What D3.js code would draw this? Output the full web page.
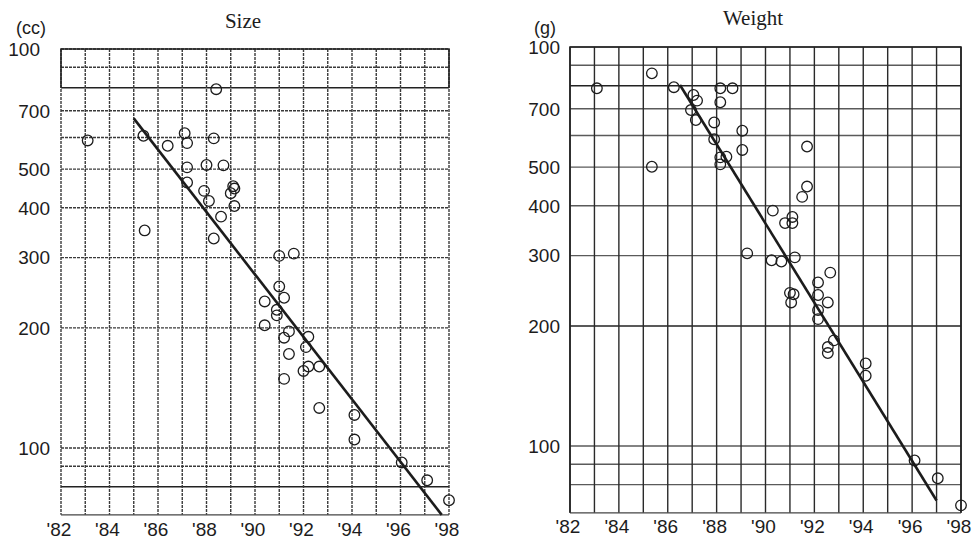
<!DOCTYPE html>
<html>
<head>
<meta charset="utf-8">
<script src="https://cdn.jsdelivr.net/npm/d3@7"></script>
<style>
  body { margin: 0; background: #fff; }
  svg { display: block; }
</style>
</head>
<body>
<div id="chart"></div>
<script>
// tick labels (the top label reads "100" in the original, kept as is)
const yearTicks = [1982, 1984, 1986, 1988, 1990, 1992, 1994, 1996, 1998];
const yearLabels = ["'82", "'84", "'86", "'88", "'90", "'92", "'94", "'96", "'98"];
const yTickValues = [1000, 700, 500, 400, 300, 200, 100];
const yTickLabels = ["100", "700", "500", "400", "300", "200", "100"];
const hGridValues = [80, 90, 100, 200, 300, 400, 500, 600, 700, 800, 900, 1000];
const gridYears = d3.range(1982, 1999);

// Size (cc)
const sizeYears = [1983.1, 1985.4, 1986.4, 1987.1, 1987.2, 1988.3, 1988.4, 1987.2, 1988.0, 1988.7,
  1987.2, 1987.9, 1988.1, 1989.1, 1989.15, 1989.0, 1989.15, 1988.6, 1988.3, 1985.45,
  1991.0, 1991.6, 1991.0, 1991.2, 1990.4, 1990.9, 1990.9, 1990.4, 1991.4, 1991.2,
  1992.2, 1992.1, 1991.4, 1992.2, 1992.0, 1992.65, 1991.2, 1992.65, 1994.1, 1994.1,
  1996.05, 1997.1, 1998.0];
const sizeValues = [590, 606, 572, 615, 581, 597, 793, 505, 512, 511,
  463, 441, 416, 453, 447, 435, 404, 380, 335, 351,
  303, 307, 254, 238, 233, 222, 215, 203, 196, 189,
  190, 179, 172, 160, 156, 160, 149, 126, 121, 105,
  92, 83, 74];
const sizeFit = [[1985, 670], [1997.7, 68]];

// Weight (g)
const weightYears = [1983.1, 1985.35, 1985.35, 1986.25, 1987.05, 1987.2, 1986.95, 1987.15, 1988.15, 1988.65,
  1988.15, 1987.9, 1987.9, 1989.05, 1989.05, 1988.15, 1988.15, 1988.4, 1991.7, 1991.7,
  1991.5, 1990.3, 1991.1, 1990.8, 1991.1, 1989.25, 1991.2, 1990.25, 1990.65, 1992.65,
  1992.15, 1991.0, 1991.15, 1991.05, 1992.15, 1992.55, 1992.15, 1992.15, 1992.8, 1992.55,
  1992.55, 1994.1, 1994.1, 1996.1, 1997.05, 1998.0];
const weightValues = [788, 859, 501, 793, 758, 734, 695, 656, 788, 788,
  727, 647, 587, 617, 552, 529, 508, 531, 563, 447,
  421, 389, 375, 362, 362, 304, 297, 292, 290, 272,
  257, 242, 240, 229, 239, 229, 219, 208, 184, 177,
  171, 161, 150, 92, 83, 71];
const weightFit = [[1986.5, 803], [1997.0, 73]];

const width = 977, height = 540;
const svg = d3.select("#chart").append("svg")
  .attr("width", width)
  .attr("height", height);

const sansFont = "'Liberation Sans', Arial, sans-serif";
const serifFont = "'Liberation Serif', 'Times New Roman', serif";
const ink = "#1c1c1c";

function drawPanel(p) {
  const x = d3.scaleLinear().domain([1982, 1998]).range([p.left, p.right]);
  const y = d3.scaleLog().domain([100, 1000]).range([p.y100, p.y1000]);
  const bottom = y(68);
  const top = y(1000);
  const g = svg.append("g");

  // horizontal grid
  g.append("g").selectAll("line")
    .data(hGridValues)
    .join("line")
    .attr("x1", p.left).attr("x2", p.right)
    .attr("y1", d => y(d)).attr("y2", d => y(d))
    .attr("stroke", d => p.solidH.includes(d) ? "#222" : p.hColor)
    .attr("stroke-width", d => p.solidH.includes(d) ? 1.5 : 1.4)
    .attr("stroke-dasharray", d => p.solidH.includes(d) ? null : p.hDash);

  // vertical grid, one line per year
  g.append("g").selectAll("line")
    .data(gridYears)
    .join("line")
    .attr("x1", d => x(d)).attr("x2", d => x(d))
    .attr("y1", top).attr("y2", bottom)
    .attr("stroke", p.vColor)
    .attr("stroke-width", 1.4)
    .attr("stroke-dasharray", p.vDash);

  // bottom edge
  g.append("line")
    .attr("x1", p.left).attr("x2", p.right)
    .attr("y1", bottom).attr("y2", bottom)
    .attr("stroke", "#444").attr("stroke-width", 1.4);

  // frame
  g.append("path")
    .attr("d", p.topFrame(x, y))
    .attr("fill", "none")
    .attr("stroke", "#222")
    .attr("stroke-width", 1.6);

  // fitted trend line
  g.append("line")
    .attr("x1", x(p.fit[0][0])).attr("y1", y(p.fit[0][1]))
    .attr("x2", x(p.fit[1][0])).attr("y2", y(p.fit[1][1]))
    .attr("stroke", ink)
    .attr("stroke-width", 2.6);

  // data points
  g.append("g").selectAll("circle")
    .data(d3.zip(p.years, p.values))
    .join("circle")
    .attr("cx", d => x(d[0]))
    .attr("cy", d => y(d[1]))
    .attr("r", 5.3)
    .attr("fill", "none")
    .attr("stroke", ink)
    .attr("stroke-width", 1.3);

  // y labels
  g.append("g").selectAll("text")
    .data(d3.zip(yTickValues, yTickLabels))
    .join("text")
    .attr("x", (d, i) => i === 0 ? p.left - p.topLabelGap : p.left - p.labelGap)
    .attr("y", d => y(d[0]))
    .attr("dy", "0.36em")
    .attr("text-anchor", "end")
    .attr("font-family", sansFont)
    .attr("font-size", 19)
    .attr("fill", ink)
    .text(d => d[1]);

  // x labels
  g.append("g").selectAll("text")
    .data(d3.zip(yearTicks, yearLabels))
    .join("text")
    .attr("x", d => x(d[0]) - 2)
    .attr("y", p.xLabelY)
    .attr("text-anchor", "middle")
    .attr("font-family", sansFont)
    .attr("font-size", 19)
    .attr("fill", ink)
    .text(d => d[1]);

  // unit and title
  g.append("text")
    .attr("x", p.unitX).attr("y", 34)
    .attr("text-anchor", "middle")
    .attr("font-family", sansFont)
    .attr("font-size", 18)
    .attr("fill", ink)
    .text(p.unit);

  g.append("text")
    .attr("x", p.titleX).attr("y", p.titleY)
    .attr("text-anchor", "middle")
    .attr("font-family", serifFont)
    .attr("font-size", 21)
    .attr("fill", ink)
    .text(p.title);
}

drawPanel({
  left: 61, right: 449, y100: 448, y1000: 49,
  years: sizeYears, values: sizeValues, fit: sizeFit,
  hColor: "#3a3a3a", vColor: "#3a3a3a", hDash: "3,1", vDash: "3,1",
  solidH: [800, 80],
  topFrame: (x, y) => `M${x(1982)},${y(800)}V${y(1000)}H${x(1998)}V${y(800)}`,
  labelGap: 11, topLabelGap: 21,
  xLabelY: 536, unit: "(cc)", unitX: 31, title: "Size", titleX: 243, titleY: 28
});

drawPanel({
  left: 570, right: 961, y100: 446, y1000: 47,
  years: weightYears, values: weightValues, fit: weightFit,
  hColor: "#5a5a5a", vColor: "#2a2a2a", hDash: null, vDash: null,
  solidH: [800, 200],
  topFrame: (x, y) => `M${x(1982)},${y(68)}V${y(1000)}H${x(1998)}V${y(68)}`,
  labelGap: 10, topLabelGap: 10,
  xLabelY: 533, unit: "(g)", unitX: 545, title: "Weight", titleX: 753, titleY: 25
});
</script>
</body>
</html>
